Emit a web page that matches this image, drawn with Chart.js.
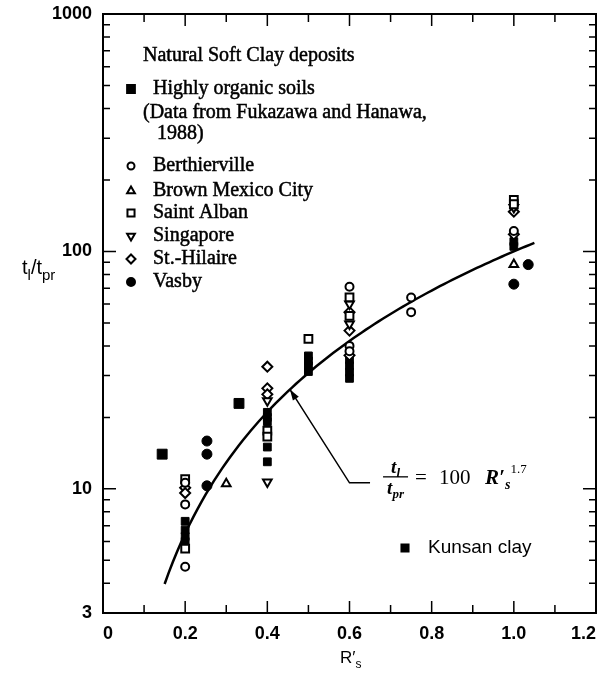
<!DOCTYPE html>
<html>
<head>
<meta charset="utf-8">
<script src="https://cdn.jsdelivr.net/npm/chart.js@4.4.1/dist/chart.umd.min.js"></script>
<style>
  html, body { margin: 0; padding: 0; background: #fff; }
  #wrap { width: 611px; height: 680px; }
</style>
</head>
<body>
<div id="wrap"><canvas id="chart" width="611" height="680"></canvas></div>
<script>
// Secondary compression ratio t_l/t_pr against R'_s, natural soft clays

// Highly organic soils (Fukazawa and Hanawa, 1988)
const organicX = [0.144, 0.331];
const organicY = [14.0, 22.9];

const berthiervilleX = [0.2, 0.2, 0.2, 0.6, 0.6, 0.6, 0.75, 0.75, 1.0];
const berthiervilleY = [10.6, 8.6, 4.7, 71, 40, 38, 64, 55.5, 122];

const mexicoX = [0.3, 1.0];
const mexicoY = [10.5, 88];

const albanX = [0.2, 0.2, 0.4, 0.4, 0.5, 0.6, 0.6, 1.0, 1.0];
const albanY = [11.0, 5.6, 17.6, 16.6, 42.8, 64, 53.5, 165, 158];

const singaporeX = [0.4, 0.4, 0.6, 0.6, 1.0];
const singaporeY = [10.7, 23.5, 60, 49.5, 153];

const hilaireX = [0.2, 0.2, 0.4, 0.4, 0.4, 0.6, 0.6, 0.6, 1.0, 1.0];
const hilaireY = [10.1, 9.6, 32.7, 26.5, 25, 55.5, 46.4, 36.5, 147, 118];

const vasbyX = [0.253, 0.253, 0.253, 1.0, 1.035];
const vasbyY = [15.9, 14.0, 10.3, 72.8, 88];

const kunsanX = [0.2, 0.2, 0.2, 0.2, 0.4, 0.4, 0.4, 0.4, 0.4, 0.5, 0.5, 0.5, 0.5, 0.6, 0.6, 0.6, 0.6, 1.0, 1.0];
const kunsanY = [7.3, 6.7, 6.3, 6.0, 21, 20, 19.2, 15, 13, 36.3, 34.6, 33, 31.2, 35, 33, 31, 29.2, 110, 105];

// fitted relation t_l/t_pr = 100 R'_s^1.7
const FIT_COEF = 100;
const FIT_EXP = 1.7;
const FIT_FROM = 0.15;
const FIT_TO = 1.05;

// axis ticks
const xTickValues = [0, 0.1, 0.2, 0.3, 0.4, 0.5, 0.6, 0.7, 0.8, 0.9, 1.0, 1.1, 1.2];
const xTickLabels = ['0', '', '0.2', '', '0.4', '', '0.6', '', '0.8', '', '1.0', '', '1.2'];
const yTickValues = [3, 4, 5, 6, 7, 8, 9, 10, 20, 30, 40, 50, 60, 70, 80, 90,
  100, 200, 300, 400, 500, 600, 700, 800, 900, 1000];
const yTickLabels = ['3', '10', '100', '1000'];

const pts = (xs, ys) => xs.map((x, i) => ({ x: x, y: ys[i] }));

const curve = [];
for (let i = 0; i <= 90; i++) {
  const r = FIT_FROM + (FIT_TO - FIT_FROM) * i / 90;
  curve.push({ x: r, y: FIT_COEF * Math.pow(r, FIT_EXP) });
}

const openPt = { pointBackgroundColor: '#fff', pointBorderColor: '#000', pointBorderWidth: 2 };
const solidPt = { pointBackgroundColor: '#000', pointBorderColor: '#000', pointBorderWidth: 1 };

function isDecade(v) {
  const l = Math.log10(v);
  return Math.abs(l - Math.round(l)) < 1e-9;
}

function drawMarker(ctx, style, x, y, r, solid) {
  ctx.beginPath();
  if (style === 'circle') {
    ctx.arc(x, y, r, 0, Math.PI * 2);
  } else if (style === 'rect') {
    const h = r * Math.SQRT1_2;
    ctx.rect(x - h, y - h, 2 * h, 2 * h);
  } else if (style === 'rectRot') {
    ctx.moveTo(x, y - r); ctx.lineTo(x + r, y); ctx.lineTo(x, y + r); ctx.lineTo(x - r, y);
    ctx.closePath();
  } else if (style === 'triangle') {
    ctx.moveTo(x, y - r); ctx.lineTo(x + r * 0.866, y + r / 2); ctx.lineTo(x - r * 0.866, y + r / 2);
    ctx.closePath();
  } else if (style === 'triangleDown') {
    ctx.moveTo(x, y + r); ctx.lineTo(x + r * 0.866, y - r / 2); ctx.lineTo(x - r * 0.866, y - r / 2);
    ctx.closePath();
  }
  ctx.fillStyle = solid ? '#000' : '#fff';
  ctx.fill();
  ctx.lineWidth = 2;
  ctx.strokeStyle = '#000';
  ctx.stroke();
}

// draws a row of text pieces, each with its own font and vertical shift
function drawRuns(ctx, x, y, runs) {
  ctx.textAlign = 'left';
  ctx.textBaseline = 'alphabetic';
  for (const [t, font, dy] of runs) {
    ctx.font = font;
    ctx.fillText(t, x, y + (dy || 0));
    x += ctx.measureText(t).width;
  }
  return x;
}

function runsWidth(ctx, runs) {
  let w = 0;
  for (const [t, font] of runs) { ctx.font = font; w += ctx.measureText(t).width; }
  return w;
}

// serif legend text, slightly heavier than the plain face
function heavyText(ctx, t, x, y) {
  ctx.fillText(t, x, y);
  ctx.lineWidth = 0.5;
  ctx.strokeText(t, x, y);
}

const SERIF = '"Liberation Serif", "Times New Roman", serif';
const SANS = '"Liberation Sans", Arial, sans-serif';

const frame = {
  id: 'frame',
  afterDraw(chart) {
    const { ctx, chartArea: a, scales: { x, y } } = chart;
    ctx.save();
    ctx.fillStyle = '#000';
    ctx.strokeStyle = '#000';

    // box
    ctx.lineWidth = 2;
    ctx.strokeRect(a.left, a.top, a.right - a.left, a.bottom - a.top);

    // inward tick marks on all four sides
    ctx.lineWidth = 1.5;
    ctx.beginPath();
    y.ticks.forEach(t => {
      const py = y.getPixelForValue(t.value);
      const len = isDecade(t.value) ? 13 : 7;
      ctx.moveTo(a.left, py); ctx.lineTo(a.left + len, py);
      ctx.moveTo(a.right, py); ctx.lineTo(a.right - len, py);
    });
    x.ticks.forEach(t => {
      const px = x.getPixelForValue(t.value);
      const major = Math.round(t.value * 10) % 2 === 0;
      const len = major ? 12 : 8;
      ctx.moveTo(px, a.bottom); ctx.lineTo(px, a.bottom - len);
      ctx.moveTo(px, a.top); ctx.lineTo(px, a.top + len);
    });
    ctx.stroke();

    // axis titles
    drawRuns(ctx, 22, 274, [
      ['t', '20px ' + SANS], ['l', '15px ' + SANS, 6],
      ['/t', '20px ' + SANS], ['pr', '15px ' + SANS, 6]
    ]);
    drawRuns(ctx, 340, 663, [
      ['R\u2032', '17px ' + SANS], ['s', '12px ' + SANS, 5]
    ]);

    // legend block
    const lx = a.left;
    const ly = a.top;
    ctx.font = '20px ' + SERIF;
    ctx.textBaseline = 'middle';
    ctx.textAlign = 'left';
    ctx.strokeStyle = '#000';
    heavyText(ctx, 'Natural Soft Clay deposits', lx + 40, ly + 42);
    const rows = [
      ['rect', true, 'Highly organic soils', 75, 5.5],
      ['circle', false, 'Berthierville', 152, 3.5],
      ['triangle', false, 'Brown Mexico City', 177, 4.5],
      ['rect', false, 'Saint Alban', 199, 5],
      ['triangleDown', false, 'Singapore', 222, 4.5],
      ['rectRot', false, 'St.-Hilaire', 245, 4.5],
      ['circle', true, 'Vasby', 268, 4]
    ];
    rows.forEach(([style, solid, label, dy, r]) => {
      drawMarker(ctx, style, lx + 28, ly + dy, r, solid);
      ctx.fillStyle = '#000';
      ctx.font = '20px ' + SERIF;
      ctx.textBaseline = 'middle';
      heavyText(ctx, label, lx + 50, ly + dy);
    });
    heavyText(ctx, '(Data from Fukazawa and Hanawa,', lx + 40, ly + 99);
    heavyText(ctx, '1988)', lx + 54, ly + 120);

    // Kunsan clay key
    drawMarker(ctx, 'rect', a.right - 191, a.bottom - 65, 5, true);
    ctx.fillStyle = '#000';
    ctx.font = '19px ' + SANS;
    ctx.textBaseline = 'middle';
    ctx.fillText('Kunsan clay', a.right - 168, a.bottom - 65);

    // leader from the curve to the equation
    const tipR = 0.455;
    const tip = { x: x.getPixelForValue(tipR), y: y.getPixelForValue(FIT_COEF * Math.pow(tipR, FIT_EXP)) };
    const elbow = { x: x.getPixelForValue(0.6), y: y.getPixelForValue(10.6) };
    const end = { x: x.getPixelForValue(0.65), y: elbow.y };
    ctx.lineWidth = 1.5;
    ctx.beginPath();
    ctx.moveTo(end.x, end.y); ctx.lineTo(elbow.x, elbow.y); ctx.lineTo(tip.x, tip.y);
    ctx.stroke();
    const ang = Math.atan2(tip.y - elbow.y, tip.x - elbow.x);
    ctx.beginPath();
    ctx.moveTo(tip.x, tip.y);
    ctx.lineTo(tip.x - 11 * Math.cos(ang) + 3.5 * Math.sin(ang), tip.y - 11 * Math.sin(ang) - 3.5 * Math.cos(ang));
    ctx.lineTo(tip.x - 11 * Math.cos(ang) - 3.5 * Math.sin(ang), tip.y - 11 * Math.sin(ang) + 3.5 * Math.cos(ang));
    ctx.closePath();
    ctx.fill();

    // equation t_l / t_pr = 100 R'_s^1.7
    const ex = end.x + 13;
    const barY = end.y - 6;
    const itl = 'italic bold 19px ' + SERIF;
    const itlSub = 'italic bold 13px ' + SERIF;
    const num = [['t', itl], ['l', itlSub, 4]];
    const den = [['t', itl], ['pr', itlSub, 4]];
    const fracW = 25;
    drawRuns(ctx, ex + (fracW - runsWidth(ctx, num)) / 2, barY - 4, num);
    drawRuns(ctx, ex + (fracW - runsWidth(ctx, den)) / 2, barY + 17, den);
    ctx.lineWidth = 1.3;
    ctx.beginPath();
    ctx.moveTo(ex, barY); ctx.lineTo(ex + fracW, barY);
    ctx.stroke();
    drawRuns(ctx, ex + 32, barY + 7, [['=', '21px ' + SERIF]]);
    drawRuns(ctx, ex + 56, barY + 7, [['100', '21px ' + SERIF]]);
    drawRuns(ctx, ex + 102, barY + 7, [
      ['R\u2032', 'italic bold 21px ' + SERIF],
      ['s', 'italic bold 14px ' + SERIF, 5],
      ['1.7', '13px ' + SERIF, -11]
    ]);

    ctx.restore();
  }
};

new Chart(document.getElementById('chart'), {
  type: 'scatter',
  data: {
    datasets: [
      { label: 'fit', type: 'line', data: curve, borderColor: '#000', borderWidth: 2.5,
        pointRadius: 0, fill: false, tension: 0, order: 10 },
      { label: 'Highly organic soils', data: pts(organicX, organicY), pointStyle: 'rect', pointRadius: 7, ...solidPt },
      { label: 'Berthierville', data: pts(berthiervilleX, berthiervilleY), pointStyle: 'circle', pointRadius: 4, ...openPt },
      { label: 'Brown Mexico City', data: pts(mexicoX, mexicoY), pointStyle: 'triangle', pointRadius: 5, ...openPt },
      { label: 'Saint Alban', data: pts(albanX, albanY), pointStyle: 'rect', pointRadius: 5.5, ...openPt },
      { label: 'Singapore', data: pts(singaporeX, singaporeY), pointStyle: 'triangle', pointRotation: 180, pointRadius: 5, ...openPt },
      { label: 'St.-Hilaire', data: pts(hilaireX, hilaireY), pointStyle: 'rectRot', pointRadius: 5, ...openPt },
      { label: 'Vasby', data: pts(vasbyX, vasbyY), pointStyle: 'circle', pointRadius: 5, ...solidPt },
      { label: 'Kunsan clay', data: pts(kunsanX, kunsanY), pointStyle: 'rect', pointRadius: 5.5, ...solidPt }
    ]
  },
  options: {
    responsive: false,
    animation: false,
    events: [],
    layout: { padding: { top: 14, right: 15, left: 0, bottom: 0 } },
    plugins: { legend: { display: false }, tooltip: { enabled: false } },
    scales: {
      x: {
        type: 'linear',
        min: 0,
        max: 1.2,
        grid: { display: false },
        border: { display: false },
        afterBuildTicks: (scale) => { scale.ticks = xTickValues.map(v => ({ value: v })); },
        afterFit: (scale) => { scale.height = 67; },
        ticks: {
          autoSkip: false,
          maxRotation: 0,
          align: 'inner',
          padding: 2,
          color: '#000',
          font: { family: 'Liberation Sans', size: 18, weight: 'bold' },
          callback: (v, i) => xTickLabels[i]
        }
      },
      y: {
        type: 'logarithmic',
        min: 3,
        max: 1000,
        grid: { display: false },
        border: { display: false },
        afterBuildTicks: (scale) => { scale.ticks = yTickValues.map(v => ({ value: v })); },
        afterFit: (scale) => { scale.width = 103; },
        ticks: {
          autoSkip: false,
          padding: 3,
          color: '#000',
          font: { family: 'Liberation Sans', size: 18, weight: 'bold' },
          callback: (v) => yTickLabels.includes(String(v)) ? String(v) : ''
        }
      }
    }
  },
  plugins: [frame]
});
</script>
</body>
</html>
